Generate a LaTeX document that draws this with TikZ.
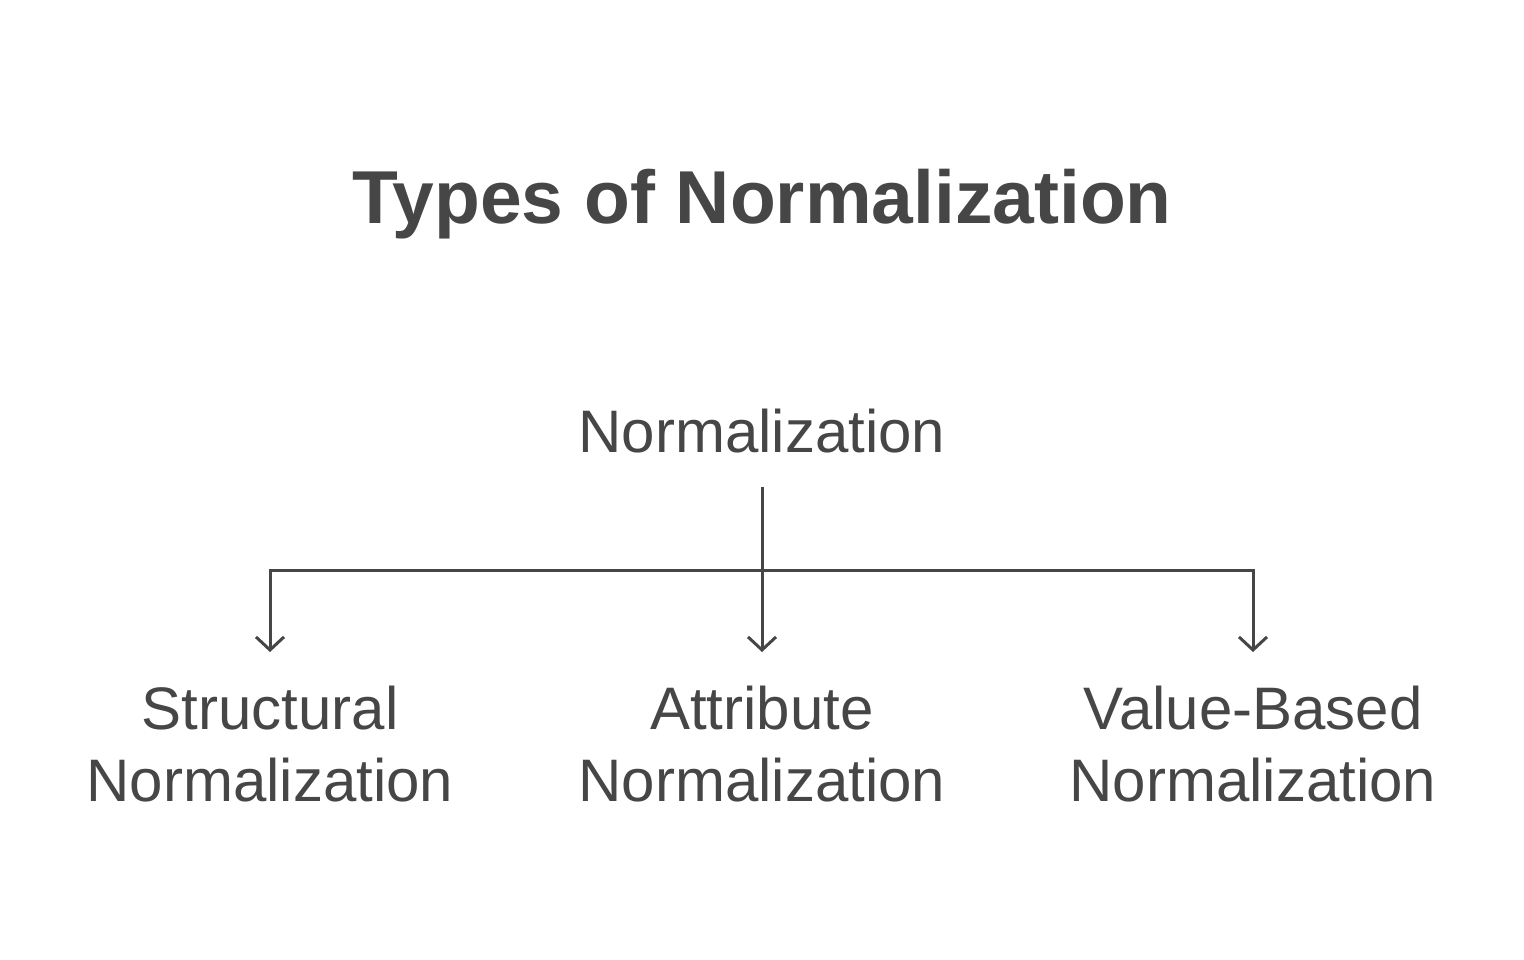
\documentclass[tikz,border=0pt]{standalone}
\usepackage{fontspec}
\setmainfont{Liberation Sans}
\usetikzlibrary{arrows.meta}
\definecolor{ink}{HTML}{464646}
\begin{document}
\begin{tikzpicture}[x=1pt,y=-1pt,
	lbl/.style={inner sep=0pt,text=ink,align=center,font=\fontsize{60}{72}\selectfont},
	arr/.style={draw=ink,line width=3pt,-{Straight Barb[length=13pt,width=28pt]},shorten >=34pt}]
		\useasboundingbox (0,0) rectangle (1524,960);
		\node[inner sep=0pt,text=ink,anchor=base,font=\fontsize{75}{90}\selectfont\bfseries] (title) at (762,224) {Types of Normalization};
		\node[lbl,anchor=base] (norm) at (762,452) {Normalization};
		\coordinate (split) at (762,570);
		% three kinds below
		\node[lbl,anchor=north] (structural) at (270,686) {Structural\\Normalization};
		\node[lbl,anchor=north] (attribute) at (762,686) {Attribute\\Normalization};
		\node[lbl,anchor=north] (valuebased) at (1253,686) {Value-Based\\Normalization};
		\draw[draw=ink,line width=3pt,shorten <=34pt] (norm.south) -- (split);
		\draw[arr] (split) -| (structural);
		\draw[arr] (split) -- (attribute);
		\draw[arr] (split) -| (valuebased);
\end{tikzpicture}
\end{document}
